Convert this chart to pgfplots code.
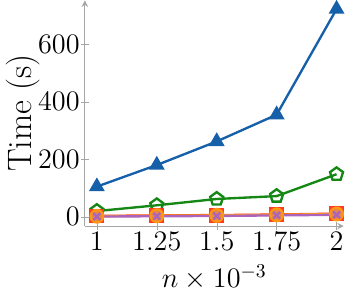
\documentclass[border=0pt]{standalone}
\usepackage{pgfplots}
\pgfplotsset{compat=1.18}
\definecolor{cblue}{RGB}{22,96,170}
\definecolor{cgreen}{RGB}{20,135,20}
\definecolor{corange}{RGB}{255,150,20}
\definecolor{cred}{RGB}{255,60,30}
\definecolor{cpurple}{RGB}{170,100,190}
\begin{document}
\begin{tikzpicture}
\begin{axis}[
  scale only axis,
  width=132pt, height=115pt,
  axis lines=left,
  axis line style={gray!70, line width=0.5pt},
  tick style={gray!70},
  xmin=0.95, xmax=2.03,
  ymin=-32, ymax=752,
  xtick={1,1.25,1.5,1.75,2},
  xticklabels={1,1.25,1.5,1.75,2},
  ytick={0,200,400,600},
  tick label style={font=\Large},
  xticklabel style={yshift=3pt},
  yticklabel style={xshift=3pt},
  xlabel style={font=\Large, yshift=0pt},
  ylabel style={font=\LARGE, yshift=-8pt},
  xlabel={$n\times10^{-3}$},
  ylabel={Time (s)},
  clip=false,
]
\addplot[cblue, line width=1.2pt, mark=triangle*, mark size=3.5pt, mark options={fill=cblue}]
 coordinates {(1,105) (1.25,180) (1.5,262) (1.75,355) (2,722)};
\addplot[cgreen, line width=1.2pt, mark=pentagon, mark size=3.5pt, mark options={fill=white}]
 coordinates {(1,20) (1.25,40) (1.5,62) (1.75,72) (2,148)};
\addplot[cred, line width=1.2pt, mark=square*, mark size=3.2pt, mark options={fill=cred!80}]
 coordinates {(1,3) (1.25,5) (1.5,6) (1.75,8) (2,11)};
\addplot[corange, line width=1.2pt, mark=*, mark size=3.2pt, mark options={fill=corange!70!cpurple}]
 coordinates {(1,2) (1.25,4) (1.5,5) (1.75,7) (2,10)};
\addplot[cpurple, line width=1.2pt, mark=x, mark size=2.5pt]
 coordinates {(1,1) (1.25,2) (1.5,3) (1.75,5) (2,7)};
\end{axis}
\end{tikzpicture}
\end{document}
